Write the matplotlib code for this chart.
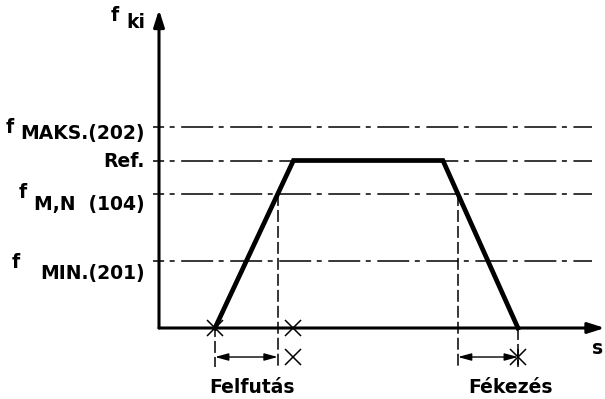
import numpy as np
import matplotlib.pyplot as plt

plt.rcParams['font.family'] = ['DejaVu Sans']
plt.rcParams['lines.scale_dashes'] = False

# frequency levels (units of f_MIN)
level_names = ['MAKS.(202)', 'Ref.', 'M,N  (104)', 'MIN.(201)']
level_values = [3.0, 2.5, 2.0, 1.0]
f_maks, f_ref, f_mn, f_min = level_values

# speed profile: ramp up, hold at reference, ramp down
t_profile = [1.0, 2.4, 5.07, 6.41]
f_profile = [0.0, f_ref, f_ref, 0.0]

# times where the ramps pass f_M,N
t_up = np.interp(f_mn, f_profile[:2], t_profile[:2])
t_down = np.interp(f_mn, f_profile[2:][::-1], t_profile[2:][::-1])

fig = plt.figure(figsize=(6.05, 3.99), dpi=100)
ax = fig.add_axes([0, 0, 1, 1])
ax.set_xlim(-159 / 56, 446 / 56)
ax.set_ylim(-71 / 67, 328 / 67)
ax.axis('off')

# dash-dot level lines
dashdot = (15, (23, 4, 3.6, 4.7))
for v in level_values:
    ax.plot([-0.107, 7.73], [v, v], color='k', lw=1.1, ls=dashdot)

# axes with arrow heads
arr = dict(arrowstyle='-|>,head_length=1.0,head_width=0.32', lw=2.2,
           color='k', shrinkA=0, shrinkB=0)
ax.annotate('', xy=(0, 4.75), xytext=(0, 0), arrowprops=arr)
ax.annotate('', xy=(7.96, 0), xytext=(0, 0), arrowprops=arr)

# speed profile
ax.plot(t_profile, f_profile, color='k', lw=3.4, solid_joinstyle='miter')

# dimension lines below the axis
y_dim = -0.433
y_bot = -0.585
vdash = (0, (8.6, 2.9))
for t, top in [(t_up, f_mn), (t_down, f_mn),
               (t_profile[0], 0.05), (t_profile[-1], 0.0)]:
    ax.plot([t, t], [top, y_bot], color='k', lw=1.1, ls=vdash)

small = dict(arrowstyle='<|-|>,head_length=0.8,head_width=0.22', lw=1.0,
             color='k', shrinkA=0, shrinkB=0)
ax.annotate('', xy=(t_up, y_dim), xytext=(t_profile[0], y_dim), arrowprops=small)
ax.annotate('', xy=(t_profile[-1], y_dim), xytext=(t_down, y_dim), arrowprops=small)

# cross marks
mk = dict(color='k', ls='none', markersize=11, markeredgewidth=1.1)
ax.plot([t_profile[0], t_profile[1], t_profile[1], t_profile[-1]],
        [0, 0, y_dim, y_dim], marker='x', **mk)
ax.plot([t_profile[-1]], [y_dim], marker='|', **mk)

# labels
fs = 13.5
txt = dict(fontsize=fs, fontweight='bold')
label_y = [2.90, 2.485, 1.84, 0.815]
for name, y in zip(level_names, label_y):
    ax.text(-0.25, y, name, ha='right', va='center', **txt)
ax.text(-2.66, 2.99, 'f', ha='center', va='center', **txt)
ax.text(-2.43, 2.02, 'f', ha='center', va='center', **txt)
ax.text(-2.56, 0.98, 'f', ha='center', va='center', **txt)

ax.text(-0.786, 4.67, 'f', ha='center', va='center', **txt)
ax.text(-0.41, 4.56, 'ki', ha='center', va='center', **txt)
ax.text(7.84, -0.313, 's', ha='center', va='center', **txt)

ax.text(1.66, -0.97, 'Felfutás', ha='center', va='baseline', **txt)
ax.text(6.27, -0.97, 'Fékezés', ha='center', va='baseline', **txt)

fig.savefig('out.png', dpi=100)
